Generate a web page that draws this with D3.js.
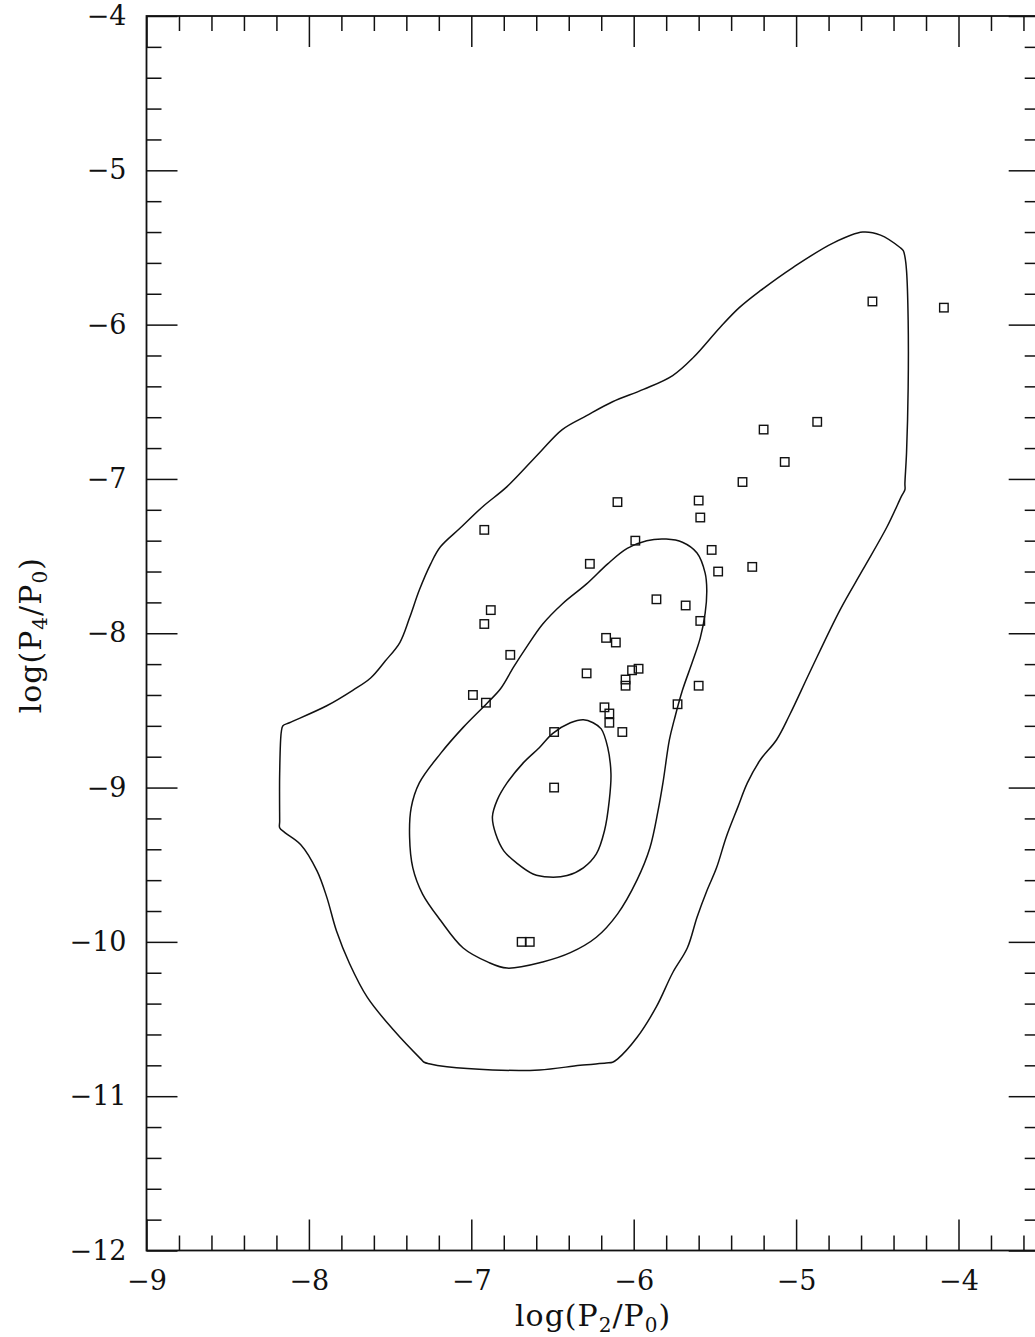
<!DOCTYPE html>
<html>
<head>
<meta charset="utf-8">
<script src="https://cdn.jsdelivr.net/npm/d3@7"></script>
<style>
  html, body { margin: 0; padding: 0; background: #fff; }
  svg { display: block; }
  text { font-family: "DejaVu Serif", "Liberation Serif", serif; fill: #111; }
</style>
</head>
<body>
<svg id="chart" width="1035" height="1337"></svg>
<script>
// Axis ranges and tick values
const xDomain = [-9, -3.5];
const yDomain = [-12, -4];
const xMajorTicks = [-9, -8, -7, -6, -5, -4];
const yMajorTicks = [-12, -11, -10, -9, -8, -7, -6, -5, -4];

// Observed objects: log(P2/P0), log(P4/P0)
const logP2 = [-4.53, -4.09, -4.87, -5.20, -5.07, -5.33, -5.60, -6.10, -5.59, -6.92,
               -5.99, -5.52, -5.48, -6.27, -5.27, -5.86, -5.68, -5.59, -6.88, -6.92,
               -6.17, -6.11, -6.76, -5.97, -6.01, -6.29, -6.05, -6.05, -5.60, -6.99,
               -6.91, -5.73, -6.18, -6.15, -6.15, -6.07, -6.49, -6.49, -6.69, -6.64];
const logP4 = [-5.85, -5.89, -6.63, -6.68, -6.89, -7.02, -7.14, -7.15, -7.25, -7.33,
               -7.40, -7.46, -7.60, -7.55, -7.57, -7.78, -7.82, -7.92, -7.85, -7.94,
               -8.03, -8.06, -8.14, -8.23, -8.24, -8.26, -8.30, -8.34, -8.34, -8.40,
               -8.45, -8.46, -8.48, -8.52, -8.58, -8.64, -8.64, -9.00, -10.00, -10.00];

// Density contours (closed loops, [log P2/P0, log P4/P0])
const contourOuter = [
  [-4.59,-5.40],[-4.48,-5.42],[-4.36,-5.50],[-4.34,-5.52],[-4.33,-5.56],[-4.32,-5.65],
  [-4.31,-5.97],[-4.31,-6.41],[-4.32,-6.83],[-4.33,-7.03],[-4.33,-7.07],[-4.35,-7.11],
  [-4.44,-7.31],[-4.59,-7.59],[-4.73,-7.85],[-4.91,-8.24],
  [-5.04,-8.53],[-5.12,-8.69],[-5.22,-8.82],[-5.30,-8.97],[-5.36,-9.13],[-5.43,-9.32],
  [-5.49,-9.52],[-5.55,-9.67],[-5.61,-9.84],[-5.67,-10.04],[-5.76,-10.20],[-5.86,-10.42],
  [-5.98,-10.62],[-6.10,-10.76],[-6.13,-10.78],[-6.17,-10.785],[-6.33,-10.80],[-6.58,-10.83],
  [-6.87,-10.83],[-7.15,-10.81],[-7.26,-10.79],[-7.29,-10.78],[-7.31,-10.76],
  [-7.48,-10.57],[-7.64,-10.36],[-7.75,-10.14],[-7.83,-9.93],[-7.89,-9.71],
  [-7.95,-9.54],[-8.05,-9.37],[-8.15,-9.29],[-8.18,-9.26],[-8.18,-9.22],[-8.18,-8.91],
  [-8.17,-8.64],[-8.16,-8.60],[-8.12,-8.58],[-7.89,-8.47],
  [-7.73,-8.37],[-7.62,-8.29],[-7.53,-8.18],[-7.44,-8.06],[-7.38,-7.90],[-7.32,-7.72],
  [-7.25,-7.55],[-7.19,-7.44],[-7.07,-7.32],[-6.93,-7.18],[-6.78,-7.05],[-6.58,-6.83],
  [-6.44,-6.68],[-6.29,-6.59],[-6.13,-6.50],[-5.94,-6.42],[-5.76,-6.33],[-5.63,-6.21],
  [-5.47,-6.02],[-5.35,-5.89],[-5.22,-5.78],[-5.02,-5.63],[-4.77,-5.47]
];
const contourMiddle = [
  [-5.80,-7.39],[-5.70,-7.41],[-5.61,-7.48],[-5.56,-7.61],[-5.55,-7.72],[-5.56,-7.87],
  [-5.59,-8.03],[-5.64,-8.19],[-5.70,-8.37],[-5.75,-8.56],[-5.78,-8.69],[-5.82,-8.97],
  [-5.85,-9.15],[-5.90,-9.39],[-5.98,-9.60],[-6.10,-9.82],[-6.23,-9.97],[-6.39,-10.07],
  [-6.56,-10.13],[-6.78,-10.17],[-6.90,-10.13],[-7.05,-10.04],[-7.19,-9.86],[-7.30,-9.69],
  [-7.36,-9.52],[-7.38,-9.32],[-7.37,-9.13],[-7.32,-8.97],[-7.19,-8.78],[-7.05,-8.61],
  [-6.90,-8.45],[-6.82,-8.36],[-6.74,-8.22],[-6.66,-8.09],[-6.56,-7.94],[-6.44,-7.81],
  [-6.29,-7.68],[-6.16,-7.55],[-6.04,-7.45],[-5.92,-7.40]
];
const contourInner = [
  [-6.31,-8.56],[-6.25,-8.58],[-6.20,-8.62],[-6.16,-8.74],[-6.14,-8.91],[-6.15,-9.08],
  [-6.18,-9.28],[-6.23,-9.43],[-6.31,-9.52],[-6.41,-9.57],[-6.52,-9.58],[-6.62,-9.56],
  [-6.72,-9.49],[-6.80,-9.41],[-6.85,-9.30],[-6.87,-9.19],[-6.84,-9.08],[-6.78,-8.97],
  [-6.68,-8.84],[-6.58,-8.74],[-6.50,-8.65],[-6.39,-8.58]
];

(function draw() {
  const svg = d3.select("#chart");
  const plotLeft = 146.5, plotTop = 16, plotBottom = 1250.5;
  const pxPerUnit = 162.4;
  const plotRight = plotLeft + (xDomain[1] - xDomain[0]) * pxPerUnit;

  const x = d3.scaleLinear().domain(xDomain).range([plotLeft, plotRight]);
  const y = d3.scaleLinear().domain(yDomain).range([plotBottom, plotTop]);

  const ink = "#111";
  const majorLen = 31, minorLen = 15;

  const step = 0.2;
  const minorOf = dom => d3.range(Math.round((dom[1] - dom[0]) / step) + 1)
    .map(i => +(dom[0] + i * step).toFixed(2))
    .filter(v => Math.abs(v - Math.round(v)) > 1e-6);
  const xMinor = minorOf(xDomain);
  const yMinor = minorOf(yDomain);

  const fmt = d3.format("d");

  function styleAxis(g) {
    g.selectAll("path.domain").remove();
    g.selectAll("line").attr("stroke", ink).attr("stroke-width", 1.5);
    g.selectAll("text").attr("fill", ink).attr("font-size", 27)
      .attr("font-family", "DejaVu Serif, Liberation Serif, serif");
  }

  // Bottom axis
  svg.append("g").attr("transform", `translate(0,${plotBottom})`)
    .call(d3.axisBottom(x).tickValues(xMinor).tickSize(-minorLen).tickFormat(""))
    .call(styleAxis);
  svg.append("g").attr("transform", `translate(0,${plotBottom})`)
    .call(d3.axisBottom(x).tickValues(xMajorTicks).tickSize(-majorLen).tickPadding(20.5).tickFormat(fmt))
    .call(styleAxis);
  // Top axis
  svg.append("g").attr("transform", `translate(0,${plotTop})`)
    .call(d3.axisTop(x).tickValues(xMinor).tickSize(-minorLen).tickFormat(""))
    .call(styleAxis);
  svg.append("g").attr("transform", `translate(0,${plotTop})`)
    .call(d3.axisTop(x).tickValues(xMajorTicks).tickSize(-majorLen).tickFormat(""))
    .call(styleAxis);
  // Left axis
  svg.append("g").attr("transform", `translate(${plotLeft},0)`)
    .call(d3.axisLeft(y).tickValues(yMinor).tickSize(-minorLen).tickFormat(""))
    .call(styleAxis);
  svg.append("g").attr("transform", `translate(${plotLeft},0)`)
    .call(d3.axisLeft(y).tickValues(yMajorTicks).tickSize(-majorLen).tickPadding(20).tickFormat(fmt))
    .call(styleAxis);
  // Right axis
  svg.append("g").attr("transform", `translate(${plotRight},0)`)
    .call(d3.axisRight(y).tickValues(yMinor).tickSize(-minorLen).tickFormat(""))
    .call(styleAxis);
  svg.append("g").attr("transform", `translate(${plotRight},0)`)
    .call(d3.axisRight(y).tickValues(yMajorTicks).tickSize(-majorLen).tickFormat(""))
    .call(styleAxis);

  // Frame
  svg.append("rect")
    .attr("x", plotLeft).attr("y", plotTop)
    .attr("width", plotRight - plotLeft).attr("height", plotBottom - plotTop)
    .attr("fill", "none").attr("stroke", ink).attr("stroke-width", 1.8);

  // Contours
  const contourLine = d3.line()
    .x(d => x(d[0])).y(d => y(d[1]))
    .curve(d3.curveCatmullRomClosed.alpha(0.5));
  svg.append("g").selectAll("path")
    .data([contourOuter, contourMiddle, contourInner])
    .join("path")
    .attr("d", contourLine)
    .attr("fill", "none").attr("stroke", ink).attr("stroke-width", 1.5);

  // Data points as open squares
  const sq = 8.5;
  svg.append("g").selectAll("rect")
    .data(d3.zip(logP2, logP4))
    .join("rect")
    .attr("x", d => x(d[0]) - sq / 2).attr("y", d => y(d[1]) - sq / 2)
    .attr("width", sq).attr("height", sq)
    .attr("fill", "none").attr("stroke", ink).attr("stroke-width", 1.4);

  // Axis titles
  function title(sel, sub1) {
    sel.append("tspan").text("log(P");
    sel.append("tspan").attr("font-size", 20).attr("dy", 6).text(sub1);
    sel.append("tspan").attr("dy", -6).text("/P");
    sel.append("tspan").attr("font-size", 20).attr("dy", 6).text("0");
    sel.append("tspan").attr("dy", -6).text(")");
  }
  const xt = svg.append("text")
    .attr("x", (plotLeft + plotRight) / 2).attr("y", 1326)
    .attr("text-anchor", "middle").attr("font-size", 30)
    .attr("letter-spacing", 1);
  title(xt, "2");
  const yt = svg.append("text")
    .attr("transform", `translate(41,${(plotTop + plotBottom) / 2 + 2}) rotate(-90)`)
    .attr("text-anchor", "middle").attr("font-size", 30)
    .attr("letter-spacing", 1);
  title(yt, "4");
})();
</script>
</body>
</html>
